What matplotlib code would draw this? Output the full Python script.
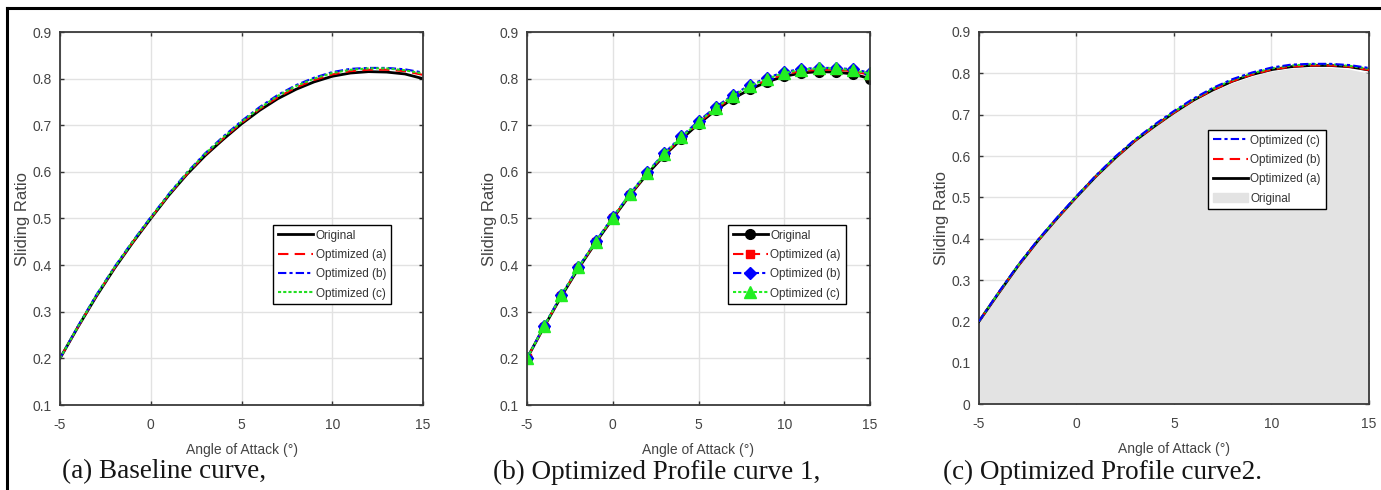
import numpy as np
import matplotlib
matplotlib.use("Agg")
from matplotlib import pyplot as plt
from matplotlib.patches import Patch

plt.rcParams["axes.unicode_minus"] = False

# angle of attack (deg) and sliding ratio
angle = [-5, -4, -3, -2, -1, 0, 1, 2, 3, 4, 5, 6, 7, 8, 9, 10, 11, 12, 13, 14, 15]
original = [0.200, 0.268, 0.333, 0.393, 0.448, 0.500, 0.550, 0.595, 0.635, 0.670, 0.703,
            0.732, 0.757, 0.777, 0.793, 0.805, 0.812, 0.815, 0.814, 0.810, 0.800]
opt_a = [0.200, 0.268, 0.334, 0.394, 0.449, 0.501, 0.551, 0.596, 0.637, 0.672, 0.705,
         0.735, 0.760, 0.781, 0.797, 0.809, 0.816, 0.819, 0.819, 0.816, 0.808]
opt_b = [0.200, 0.270, 0.336, 0.396, 0.451, 0.503, 0.553, 0.599, 0.640, 0.676, 0.709,
         0.739, 0.765, 0.786, 0.802, 0.814, 0.821, 0.823, 0.823, 0.820, 0.813]
opt_c = [0.200, 0.269, 0.335, 0.395, 0.450, 0.502, 0.552, 0.598, 0.639, 0.674, 0.707,
         0.737, 0.763, 0.784, 0.800, 0.812, 0.819, 0.822, 0.822, 0.818, 0.811]

captions = ["(a) Baseline curve,", "(b) Optimized Profile curve 1,", "(c) Optimized Profile curve2."]

W, H = 1381, 490
fig = plt.figure(figsize=(W / 100, H / 100), dpi=100)
fig.patch.set_facecolor("white")

sans = ["Liberation Sans", "DejaVu Sans"]
tick_col = "#444444"


def box(l, r, t, b):
    return [l / W, 1 - b / H, (r - l) / W, (b - t) / H]


def style(ax, ymin):
    ax.set_xlim(-5, 15)
    ax.set_ylim(ymin, 0.9)
    ax.set_xticks([-5, 0, 5, 10, 15])
    yt = np.round(np.arange(ymin, 0.91, 0.1), 1)
    ax.set_yticks(yt)
    ax.set_yticklabels([("%g" % v) for v in yt])
    ax.set_axisbelow(True)
    ax.grid(True, color="#e2e2e2", lw=1.0)
    for s in ax.spines.values():
        s.set_color("#3a3a3a")
        s.set_linewidth(1.3)
    ax.tick_params(direction="in", length=3, width=1, color="#333333",
                   top=True, right=True, labelsize=10, labelcolor=tick_col, pad=6)
    ax.tick_params(axis="x", pad=9)
    for lab in ax.get_xticklabels() + ax.get_yticklabels():
        lab.set_family(sans)
    ax.set_xlabel("Angle of Attack (°)", family=sans, fontsize=10, color=tick_col, labelpad=8)
    ax.set_ylabel("Sliding Ratio", family=sans, fontsize=12, color=tick_col, labelpad=2)


def legend(ax, handles, labels, x, y):
    lg = ax.legend(handles, labels, loc="upper left", bbox_to_anchor=(x, y),
                   borderaxespad=0, fancybox=False, framealpha=1, edgecolor="black",
                   prop={"family": sans, "size": 8.5}, handlelength=3.0,
                   handletextpad=0.2, labelspacing=0.62, borderpad=0.4)
    lg.get_frame().set_linewidth(1.0)
    for t in lg.get_texts():
        t.set_color("#333333")
    return lg


# (a) baseline
ax1 = fig.add_axes(box(60, 423, 32, 405))
l0, = ax1.plot(angle, original, color="black", lw=2.0, ls="-")
l1, = ax1.plot(angle, opt_a, color="red", lw=1.5, ls=(0, (5, 3)))
l2, = ax1.plot(angle, opt_b, color="blue", lw=1.5, ls=(0, (4, 1.5, 1.5, 1.5)))
l3, = ax1.plot(angle, opt_c, color="#22dd22", lw=1.5, ls=(0, (1.5, 1)))
style(ax1, 0.1)
legend(ax1, [l0, l1, l2, l3], ["Original", "Optimized (a)", "Optimized (b)", "Optimized (c)"],
       0.587, 0.483)

# (b) with markers
ax2 = fig.add_axes(box(527, 870, 32, 405))
m0, = ax2.plot(angle, original, color="black", lw=2.0, ls="-", marker="o", ms=7)
m1, = ax2.plot(angle, opt_a, color="red", lw=1.5, ls=(0, (5, 3)), marker="s", ms=6)
m2, = ax2.plot(angle, opt_b, color="blue", lw=1.5, ls=(0, (4, 1.5, 1.5, 1.5)), marker="D", ms=6.5)
m3, = ax2.plot(angle, opt_c, color="#22ee22", lw=1.5, ls=(0, (1.5, 1)), marker="^", ms=8.5)
style(ax2, 0.1)
legend(ax2, [m0, m1, m2, m3], ["Original", "Optimized (a)", "Optimized (b)", "Optimized (c)"],
       0.586, 0.483)

# (c) filled original
ax3 = fig.add_axes(box(979, 1369, 32, 404))
ax3.fill_between(angle, 0, original, color="#e3e3e3", lw=0, zorder=1)
n_a, = ax3.plot(angle, opt_a, color="black", lw=2.0, ls="-", zorder=3)
n_b, = ax3.plot(angle, opt_a, color="red", lw=1.5, ls=(0, (5, 3)), zorder=4)
ax3.plot(angle, opt_c, color="#22dd22", lw=1.5, ls=(0, (1.5, 1)), zorder=4)
n_c, = ax3.plot(angle, opt_b, color="blue", lw=1.5, ls=(0, (4, 1.5, 1.5, 1.5)), zorder=5)
style(ax3, 0.0)
legend(ax3, [n_c, n_b, n_a, Patch(color="#e3e3e3")],
       ["Optimized (c)", "Optimized (b)", "Optimized (a)", "Original"], 0.587, 0.737)

# captions
for x, txt in zip([62, 493, 943], captions):
    fig.text(x / W, 1 - 472 / H, txt, family=["Liberation Serif", "DejaVu Serif"],
             fontsize=19.5, color="#151515", va="center", ha="left")

# outer frame remnants (top and left rules)
fig.add_artist(plt.Line2D([7 / W, 1], [1 - 8 / H, 1 - 8 / H], color="black", lw=2.2))
fig.add_artist(plt.Line2D([7 / W, 7 / W], [0, 1 - 8 / H], color="black", lw=2.2))

fig.savefig("out.png", dpi=100)
